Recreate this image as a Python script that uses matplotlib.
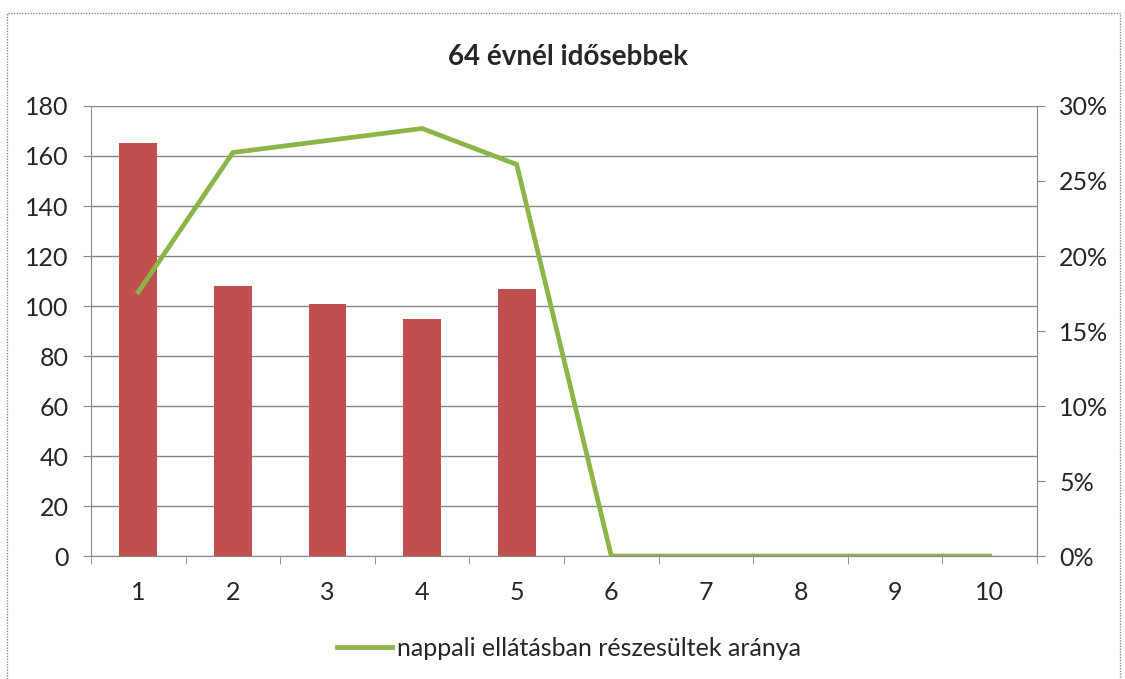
import numpy as np
import matplotlib.pyplot as plt
from matplotlib.patches import Rectangle
from matplotlib.ticker import FuncFormatter

plt.rcParams['font.family'] = ['Lato', 'DejaVu Sans']

# data
categories = [1, 2, 3, 4, 5, 6, 7, 8, 9, 10]
bar_values = [165, 108, 101, 95, 107, 0, 0, 0, 0, 0]
share_values = [0.176, 0.269, 0.277, 0.285, 0.261, 0.0, 0.0, 0.0, 0.0, 0.0]
left_ticks = [0, 20, 40, 60, 80, 100, 120, 140, 160, 180]
right_ticks = [0.0, 0.05, 0.10, 0.15, 0.20, 0.25, 0.30]
title = "64 évnél idősebbek"
line_label = "nappali ellátásban részesültek aránya"

bar_color = "#C0504D"
line_color = "#8DB447"
axis_color = "#868686"
text_color = "#262626"

fig = plt.figure(figsize=(11.25, 6.79), dpi=100)
ax = fig.add_axes([0.0809, 0.1811, 0.8409, 0.6628])

x = np.arange(len(categories))
ax.bar(x, bar_values, width=0.4, color=bar_color, zorder=3)
ax.set_xlim(-0.5, len(categories) - 0.5)
ax.set_ylim(0, 180)
ax.set_yticks(left_ticks)
ax.yaxis.grid(True, color=axis_color, lw=1.0, zorder=0)
ax.set_axisbelow(True)

ax.set_xticks(x)
ax.set_xticklabels([str(c) for c in categories])
ax.set_xticks(np.arange(len(categories) + 1) - 0.5, minor=True)
ax.tick_params(axis='x', which='major', length=0, pad=18, labelsize=18, colors=text_color)
ax.tick_params(axis='x', which='minor', length=6, color=axis_color, direction='out')
ax.tick_params(axis='y', length=6, color=axis_color, labelsize=18, colors=text_color, pad=10)

for side in ['top', 'right']:
    ax.spines[side].set_visible(False)
for side in ['left', 'bottom']:
    ax.spines[side].set_color(axis_color)

ax2 = ax.twinx()
ax2.plot(x, share_values, color=line_color, lw=3.4, zorder=4, label=line_label,
         solid_joinstyle='miter')
ax2.set_ylim(0, 0.30)
ax2.set_yticks(right_ticks)
ax2.yaxis.set_major_formatter(FuncFormatter(lambda v, p: f"{v*100:.0f}%"))
ax2.tick_params(axis='y', length=6, color=axis_color, labelsize=18, colors=text_color, pad=10)
for side in ['top', 'left', 'bottom']:
    ax2.spines[side].set_visible(False)
ax2.spines['right'].set_color(axis_color)

fig.text(0.505, 0.916, title, ha='center', va='center', fontsize=20,
         fontweight='bold', color=text_color)

fig.legend(loc='center', bbox_to_anchor=(0.506, 0.045), frameon=False,
           fontsize=18, handlelength=2.2, handletextpad=0.2, labelcolor=text_color)

fig.patches.append(Rectangle((7 / 1125, -0.01), 1113 / 1125, 1 - 13 / 679 + 0.01,
                             transform=fig.transFigure, fill=False,
                             edgecolor="#8C8C8C", lw=1.0, linestyle=(0, (1, 1))))

plt.savefig("out.png", dpi=100)
